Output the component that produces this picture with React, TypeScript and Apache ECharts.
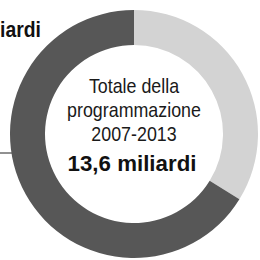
import React, { useEffect, useRef } from "react";
import * as echarts from "echarts";

const segmentNames = ["Quota B", "Quota A"];
const segmentValues = [4.6, 9.0];
const segmentColors = ["#d3d3d3", "#575757"];
const centerLines = ["Totale della", "programmazione", "2007-2013"];
const totalLabel = "13,6 miliardi";
const sideLabel = "9,0 miliardi";

const FONT = "'Liberation Sans', Arial, sans-serif";

export default function App() {
  const ref = useRef<HTMLDivElement>(null);
  useEffect(() => {
    if (!ref.current) return;
    const chart = echarts.init(ref.current, null, { renderer: "svg" });
    chart.setOption({
      animation: false,
      backgroundColor: "#ffffff",
      series: [
        {
          type: "pie",
          center: [134, 134],
          radius: [89, 124],
          startAngle: 90,
          clockwise: true,
          silent: true,
          label: { show: false },
          labelLine: { show: false },
          itemStyle: { borderWidth: 0 },
          data: segmentNames.map((n, i) => ({
            name: n,
            value: segmentValues[i],
            itemStyle: { color: segmentColors[i] },
          })),
        },
      ],
      graphic: [
        ...centerLines.map((t, i) => ({
          type: "text",
          x: 134,
          y: 96 + i * 24,
          scaleX: 0.85,
          style: {
            text: t,
            font: `21px ${FONT}`,
            fill: "#1a1a1a",
            textAlign: "center",
            textVerticalAlign: "bottom",
          },
        })),
        {
          type: "text",
          x: 132,
          y: 174,
          scaleX: 0.97,
          style: {
            text: totalLabel,
            font: `bold 23px ${FONT}`,
            fill: "#111111",
            textAlign: "center",
            textVerticalAlign: "bottom",
          },
        },
        {
          type: "text",
          x: 41,
          y: 40,
          scaleX: 0.88,
          style: {
            text: sideLabel,
            font: `bold 22px ${FONT}`,
            fill: "#111111",
            textAlign: "right",
            textVerticalAlign: "bottom",
          },
        },
        {
          type: "line",
          shape: { x1: 0, y1: 153, x2: 13, y2: 153 },
          style: { stroke: "#222222", lineWidth: 1 },
        },
      ],
    });
    return () => chart.dispose();
  }, []);
  return <div ref={ref} style={{ position: "fixed", left: 0, top: 0, width: 260, height: 260 }} />;
}
